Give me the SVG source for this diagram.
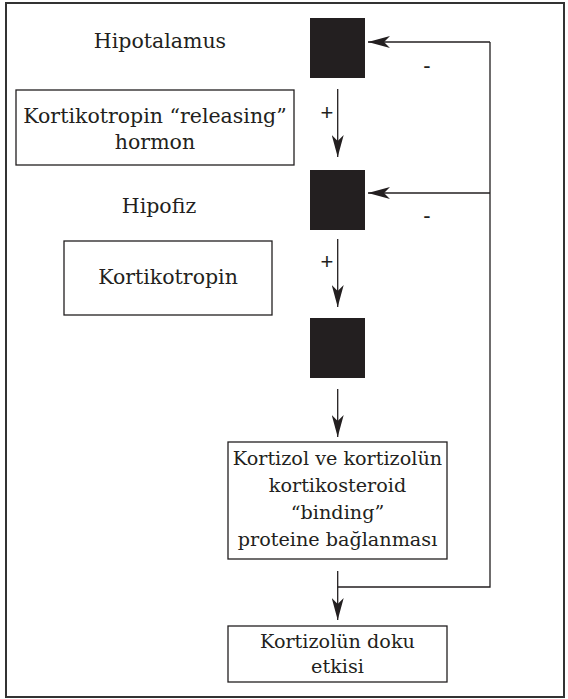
<svg xmlns="http://www.w3.org/2000/svg" width="568" height="699" viewBox="0 0 568 699">
<style>
text{font-family:"DejaVu Serif","Liberation Serif",serif;font-size:20.5px;fill:#231f20;text-anchor:middle}
.sm{font-size:19.2px}
.box{fill:#fff;stroke:#231f20;stroke-width:1.3}
.blk{fill:#231f20}
.ln{fill:none;stroke:#231f20;stroke-width:1.3}
.sg{font-family:"Liberation Sans",sans-serif;font-size:22px}
</style>
<defs>
<marker id="ah" viewBox="0 0 22 12" refX="22" refY="6" markerWidth="22" markerHeight="12" markerUnits="userSpaceOnUse" orient="auto">
<path d="M0,0 L22,6 L0,12 L6,6 Z" fill="#231f20"/>
</marker>
</defs>
<rect x="6" y="3" width="558" height="694" fill="none" stroke="#333" stroke-width="2"/>
<g id="hipotalamus">
<text x="160" y="48">Hipotalamus</text>
<rect class="blk" x="310" y="18" width="55" height="60"/>
</g>
<g id="crh">
<rect class="box" x="16" y="90" width="278" height="75"/>
<text x="155" y="123">Kortikotropin “releasing”</text>
<text x="155" y="149">hormon</text>
</g>
<g id="hipofiz">
<text x="159" y="213">Hipofiz</text>
<rect class="blk" x="310" y="170" width="55" height="60"/>
</g>
<g id="acth">
<rect class="box" x="64" y="241" width="208" height="74"/>
<text x="168" y="284">Kortikotropin</text>
</g>
<g id="adrenal">
<rect class="blk" x="310" y="318" width="55" height="60"/>
</g>
<g id="binding">
<rect class="box" x="228" y="442" width="219" height="117"/>
<text class="sm" x="337.5" y="465">Kortizol ve kortizolün</text>
<text class="sm" x="337.5" y="492">kortikosteroid</text>
<text class="sm" x="337.5" y="519">“binding”</text>
<text class="sm" x="337.5" y="546">proteine bağlanması</text>
</g>
<g id="effect">
<rect class="box" x="228" y="626" width="219" height="56"/>
<text class="sm" x="337.5" y="648">Kortizolün doku</text>
<text class="sm" x="337.5" y="673">etkisi</text>
</g>
<g id="connectors">
<line class="ln" x1="337.7" y1="89" x2="337.7" y2="157" marker-end="url(#ah)"/>
<line class="ln" x1="337.7" y1="239" x2="337.7" y2="307" marker-end="url(#ah)"/>
<line class="ln" x1="337.7" y1="389" x2="337.7" y2="437" marker-end="url(#ah)"/>
<line class="ln" x1="337.7" y1="571" x2="337.7" y2="620" marker-end="url(#ah)"/>
<polyline class="ln" points="337.7,587 490,587 490,42"/>
<line class="ln" x1="490" y1="42" x2="368" y2="42" marker-end="url(#ah)"/>
<line class="ln" x1="490" y1="193" x2="368" y2="193" marker-end="url(#ah)"/>
<text class="sg" x="327" y="120">+</text>
<text class="sg" x="327" y="269">+</text>
<text class="sg" x="427" y="73">-</text>
<text class="sg" x="427" y="223">-</text>
</g>
</svg>
